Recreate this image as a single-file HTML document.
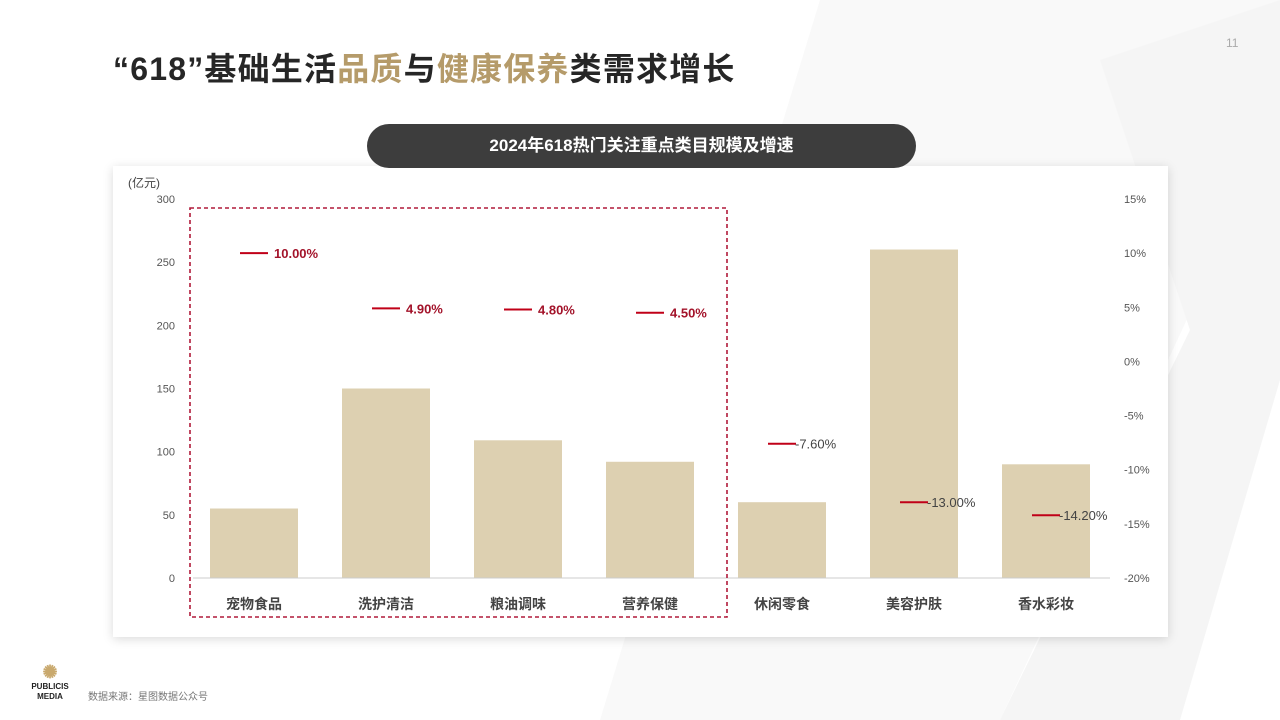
<!DOCTYPE html>
<html><head><meta charset="utf-8"><style>
body{margin:0;width:1280px;height:720px;overflow:hidden;background:#fff;font-family:"Liberation Sans","Noto Sans CJK SC",sans-serif;position:relative}
.abs{position:absolute}
</style></head><body>
<svg class="abs" style="left:0;top:0" width="1280" height="720">
<polygon points="820,0 1280,0 1280,120 1000,720 600,720" fill="#f9f9f9"/>
<polygon points="1100,60 1280,0 1280,380 1180,720 1000,720 1190,330" fill="#f5f5f5"/>
</svg>
<div class="abs" style="left:113px;top:44px;font-size:32px;font-weight:bold;color:#262626;letter-spacing:1.2px;white-space:nowrap">“618”基础生活<span style="color:#b59b6a">品质</span>与<span style="color:#b59b6a">健康保养</span>类需求增长</div>
<div class="abs" style="left:1226px;top:36px;font-size:12px;color:#aaa">11</div>
<div class="abs" style="left:113px;top:166px;width:1055px;height:471px;background:#fff;box-shadow:0 2px 10px rgba(0,0,0,0.15)"></div>
<div class="abs" style="left:367px;top:124px;width:549px;height:44px;border-radius:22px;background:#3d3d3d;color:#fff;font-size:17px;font-weight:bold;text-align:center;line-height:44px">2024年618热门关注重点类目规模及增速</div>
<svg id="chart" class="abs" style="left:0;top:0" width="1280" height="720"></svg>
<div class="abs" style="left:22px;top:662px;width:56px;text-align:center;font-size:8px;font-weight:bold;color:#222;line-height:10px">
<div style="color:#c9a96e;font-size:18px;line-height:20px">✺</div>PUBLICIS<br>MEDIA</div>
<div class="abs" style="left:88px;top:688px;font-size:10px;color:#777">数据来源：星图数据公众号</div>
<script>
const categories=["宠物食品","洗护清洁","粮油调味","营养保健","休闲零食","美容护肤","香水彩妆"];
const sizes=[55,150,109,92,60,260,90];
const growth=[10.0,4.9,4.8,4.5,-7.6,-13.0,-14.2];
const leftTicks=[0,50,100,150,200,250,300];
const rightTicks=[15,10,5,0,-5,-10,-15,-20];
const NS="http://www.w3.org/2000/svg";
const svg=document.getElementById('chart');
const x0=188,step=132,yTop=199,yBot=578;
const yL=v=>yBot-(v/300)*(yBot-yTop);
const yR=v=>yTop+(15-v)/35*(yBot-yTop);
const xC=i=>x0+step*i+step/2;
function mk(t,a){const e=document.createElementNS(NS,t);for(const k in a)e.setAttribute(k,a[k]);svg.appendChild(e);return e;}
leftTicks.forEach(v=>{const t=mk('text',{x:175,y:yL(v)+4,'text-anchor':'end','font-size':11,fill:'#555'});t.textContent=v;

});
rightTicks.forEach(v=>{const t=mk('text',{x:1124,y:yR(v)+4,'font-size':11,fill:'#555'});t.textContent=v+'%';

});
const u=mk('text',{x:128,y:187,'font-size':12,fill:'#444'});u.textContent='(亿元)';


sizes.forEach((v,i)=>{const r=mk('rect',{x:xC(i)-44,y:yL(v),width:88,height:yBot-yL(v),fill:'#ddd0b1'});

});
const ax=mk('line',{x1:193,x2:1110,y1:yBot,y2:yBot,stroke:'#ccc','stroke-width':1});


categories.forEach((c,i)=>{const t=mk('text',{x:xC(i),y:609,'text-anchor':'middle','font-size':14,'font-weight':'bold',fill:'#444'});t.textContent=c;

});
growth.forEach((g,i)=>{const y=yR(g),cx=xC(i);
const l=mk('line',{x1:cx-14,x2:cx+14,y1:y,y2:y,stroke:'#c00018','stroke-width':2});


const pos=g>0;
const t=mk('text',{x:cx+(pos?20:13),y:y+5,'font-size':13,'font-weight':pos?'bold':'normal',fill:pos?'#a3132a':'#444'});
t.textContent=(pos?'':'-')+Math.abs(g).toFixed(2)+'%';

});
const b=mk('rect',{x:190,y:208,width:537,height:409,fill:'none',stroke:'#b01a3a','stroke-width':1.6,'stroke-dasharray':'4,3'});


</script>
</body></html>
